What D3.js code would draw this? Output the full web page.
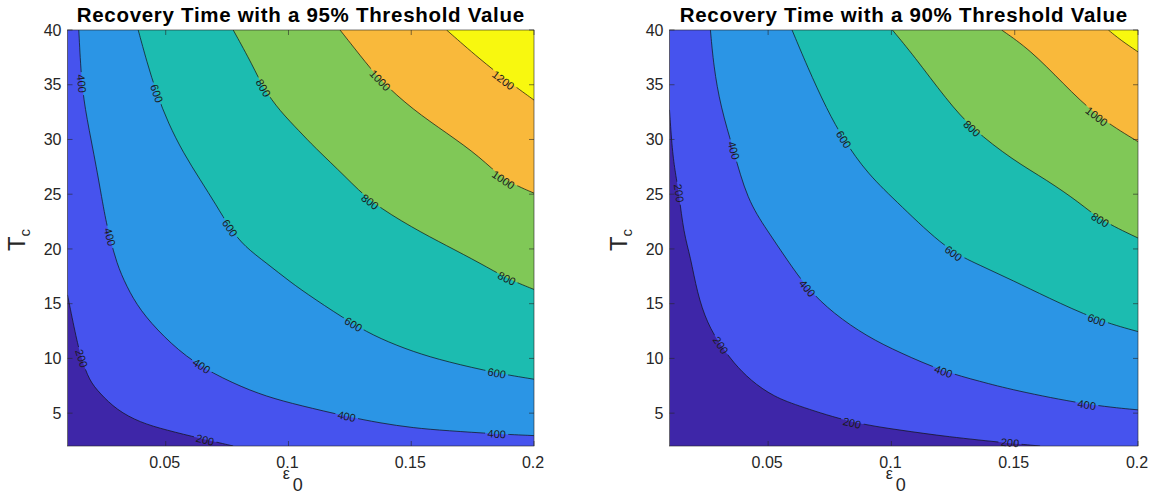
<!DOCTYPE html>
<html>
<head>
<meta charset="utf-8">
<script src="https://cdn.jsdelivr.net/npm/d3@7"></script>
<style>
  body { margin: 0; background: #fff; }
  text { font-family: "Liberation Sans", Arial, Helvetica, sans-serif; }
</style>
</head>
<body>
<script>
const levels = [200, 400, 600, 800, 1000, 1200];
const bandColors = ['#3e26a8', '#4653ee', '#2b95e5', '#1cbcb0', '#80c857', '#f9b93b', '#f8f80f'];
const xTicks = [0.05, 0.1, 0.15, 0.2];
const yTicks = [5, 10, 15, 20, 25, 30, 35, 40];
const titles = ['Recovery Time with a 95% Threshold Value', 'Recovery Time with a 90% Threshold Value'];

// contour lines, points are [epsilon0, Tc]
const t95_200 = [[0.01,15.8],[0.0137,11.7],[0.0157,10.0],[0.0188,8.0],[0.0232,6.8],[0.030,5.3],[0.0395,4.15],[0.0503,3.45],[0.064,2.7],[0.0775,2.0]];
const t95_400 = [[0.0146,40],[0.0157,35.1],[0.0177,32.1],[0.0218,27.5],[0.0252,23.0],[0.0272,21.1],[0.030,18.7],[0.034,16.6],[0.0395,14.4],[0.049,12.0],[0.0612,9.6],[0.0775,7.7],[0.0911,6.5],[0.1047,5.7],[0.1237,4.7],[0.1373,4.1],[0.1508,3.65],[0.1644,3.4],[0.1848,3.1],[0.2,2.95]];
const t95_600 = [[0.0388,40],[0.0423,37.1],[0.0463,34.2],[0.051,31.5],[0.0571,28.8],[0.0641,26.3],[0.0706,24.0],[0.0761,21.9],[0.0822,20.2],[0.0911,18.7],[0.1006,17.0],[0.1101,15.5],[0.1264,13.1],[0.1373,11.8],[0.1508,10.6],[0.1644,9.7],[0.1848,8.65],[0.2,8.1]];
const t95_800 = [[0.0775,40],[0.0856,36.7],[0.0897,34.7],[0.0965,32.6],[0.1047,30.7],[0.1101,29.4],[0.1237,26.5],[0.1332,24.3],[0.1508,21.9],[0.1644,20.3],[0.1781,18.7],[0.1889,17.3],[0.2,16.3]];
const t95_1000 = [[0.121,40],[0.1291,37.7],[0.1373,35.4],[0.1508,32.7],[0.1644,30.6],[0.1781,28.4],[0.1875,26.3],[0.2,25.1]];
const t95_1200 = [[0.1644,40],[0.1781,37.3],[0.1889,35.4],[0.2,33.6]];

const t90_200 = [[0.01,32.7],[0.0111,29.0],[0.0124,26.9],[0.0138,25.1],[0.0158,21.4],[0.0185,19.3],[0.0212,16.0],[0.0253,13.2],[0.0307,11.2],[0.036,9.6],[0.0428,8.0],[0.0522,6.5],[0.0631,5.6],[0.084,4.1],[0.1036,3.45],[0.1225,2.85],[0.1481,2.25],[0.1603,2.0]];
const t90_400 = [[0.0266,40],[0.0279,36.7],[0.0307,33.0],[0.036,29.0],[0.0415,24.5],[0.0496,21.7],[0.0577,19.0],[0.0658,16.4],[0.0765,14.1],[0.0901,12.0],[0.1036,10.5],[0.1211,8.8],[0.136,7.9],[0.1494,7.1],[0.1792,5.75],[0.2,5.3]];
const t90_600 = [[0.0597,40],[0.0658,36.7],[0.0739,32.7],[0.0806,30.0],[0.0901,26.9],[0.1036,24.0],[0.1225,19.9],[0.136,18.5],[0.1494,17.1],[0.163,15.6],[0.1832,13.5],[0.2,12.45]];
const t90_800 = [[0.1004,40],[0.1089,37.7],[0.1225,33.6],[0.1326,31.0],[0.1494,28.1],[0.163,26.3],[0.1765,24.2],[0.1846,22.65],[0.2,21.0]];
const t90_1000 = [[0.1447,40],[0.1562,38.2],[0.1697,35.1],[0.1832,32.1],[0.2,29.8]];
const t90_1200 = [[0.188,40],[0.1928,39.1],[0.2,38.0]];

// inline label spots [level, epsilon0, Tc]
const t95Labels = [[200,0.0157,10.0],[200,0.066,2.55],[400,0.0157,35.1],[400,0.0272,21.1],[400,0.0646,9.3],[400,0.1237,4.7],[400,0.1848,3.1],[600,0.0463,34.2],[600,0.0761,21.9],[600,0.1264,13.1],[600,0.1848,8.65],[800,0.0897,34.7],[800,0.1332,24.3],[800,0.1889,17.3],[1000,0.1373,35.4],[1000,0.1875,26.3],[1200,0.1875,35.4]];
const t90Labels = [[200,0.0138,25.1],[200,0.0307,11.2],[200,0.084,4.1],[200,0.1481,2.3],[400,0.036,29.0],[400,0.0658,16.4],[400,0.1211,8.8],[400,0.1792,5.75],[600,0.0806,30.0],[600,0.1251,19.6],[600,0.1832,13.5],[800,0.1326,31.0],[800,0.1846,22.65],[1000,0.1832,32.1]];

const width = 1155, height = 499;
const plotTop = 30, plotBottom = 446;

const panels = [
  {title: titles[0], lines: [t95_200, t95_400, t95_600, t95_800, t95_1000, t95_1200], labels: t95Labels, left: 67.5, right: 534},
  {title: titles[1], lines: [t90_200, t90_400, t90_600, t90_800, t90_1000, t90_1200], labels: t90Labels, left: 669.5, right: 1138}
];

let svg = d3.select('body').append('svg')
            .attr('width', width)
            .attr('height', height);
let defs = svg.append('defs');

panels.forEach((p, k) => {
  let x = d3.scaleLinear().domain([0.01, 0.2]).range([p.left, p.right]);
  let y = d3.scaleLinear().domain([2, 40]).range([plotBottom, plotTop]);
  let pw = p.right - p.left, ph = plotBottom - plotTop;
  let cx = (p.left + p.right) / 2;

  defs.append('clipPath').attr('id', 'clip' + k)
      .append('rect').attr('x', p.left).attr('y', plotTop).attr('width', pw).attr('height', ph);

  let g = svg.append('g');
  let plot = g.append('g').attr('clip-path', 'url(#clip' + k + ')');

  plot.append('rect')
      .attr('x', p.left).attr('y', plotTop).attr('width', pw).attr('height', ph)
      .attr('fill', bandColors[0]);

  // basis curve smooths out reading noise in the traced points
  let line = d3.line()
               .x(d => x(d[0]))
               .y(d => y(d[1]))
               .curve(d3.curveBasis);

  // filled bands: everything above/right of each contour line
  p.lines.forEach((pts, i) => {
    let first = pts[0], last = pts[pts.length - 1];
    let corners = [[0.2, last[1]], [0.2, 40], [first[0], 40]];
    let d = line(pts) + corners.map(c => 'L' + x(c[0]) + ',' + y(c[1])).join('') + 'Z';
    plot.append('path').attr('d', d).attr('fill', bandColors[i + 1]);
  });

  // label placement, angle follows the line
  let spots = p.labels.map(l => {
    let pts = p.lines[levels.indexOf(l[0])].map(d => [x(d[0]), y(d[1])]);
    let px = x(l[1]), py = y(l[2]);
    let best = 0, bd = Infinity;
    pts.forEach((q, j) => {
      let dd = (q[0] - px) ** 2 + (q[1] - py) ** 2;
      if (dd < bd) { bd = dd; best = j; }
    });
    let a = pts[Math.max(0, best - 1)], b = pts[Math.min(pts.length - 1, best + 1)];
    let ang = Math.atan2(b[1] - a[1], b[0] - a[0]) * 180 / Math.PI;
    if (ang > 90) ang -= 180;
    if (ang < -90) ang += 180;
    return {text: String(l[0]), x: px, y: py, ang: ang};
  });

  let mask = defs.append('mask').attr('id', 'mask' + k).attr('maskUnits', 'userSpaceOnUse')
                 .attr('x', 0).attr('y', 0).attr('width', width).attr('height', height);
  mask.append('rect').attr('width', width).attr('height', height).attr('fill', '#fff');
  spots.forEach(s => {
    let w = s.text.length * 6.4 + 4;
    mask.append('rect')
        .attr('x', -w / 2).attr('y', -5).attr('width', w).attr('height', 10)
        .attr('transform', 'translate(' + s.x + ',' + s.y + ') rotate(' + s.ang + ')')
        .attr('fill', '#000');
  });

  let lineG = plot.append('g').attr('mask', 'url(#mask' + k + ')');
  p.lines.forEach(pts => {
    lineG.append('path')
         .attr('d', line(pts))
         .attr('fill', 'none')
         .attr('stroke', '#111')
         .attr('stroke-width', 0.7);
  });

  g.selectAll('.clabel')
   .data(spots)
   .enter().append('text')
   .attr('class', 'clabel')
   .attr('transform', s => 'translate(' + s.x + ',' + s.y + ') rotate(' + s.ang + ')')
   .attr('text-anchor', 'middle')
   .attr('dy', '0.35em')
   .attr('font-size', 11)
   .attr('fill', '#1a1a1a')
   .text(s => s.text);

  // box and inward ticks on all four sides
  g.append('rect')
   .attr('x', p.left).attr('y', plotTop).attr('width', pw).attr('height', ph)
   .attr('fill', 'none').attr('stroke', '#262626').attr('stroke-width', 0.6);

  let tl = 5;
  xTicks.forEach(t => {
    g.append('line').attr('x1', x(t)).attr('x2', x(t)).attr('y1', plotBottom).attr('y2', plotBottom - tl)
     .attr('stroke', '#262626').attr('stroke-width', 0.6);
    g.append('line').attr('x1', x(t)).attr('x2', x(t)).attr('y1', plotTop).attr('y2', plotTop + tl)
     .attr('stroke', '#262626').attr('stroke-width', 0.6);
    g.append('text').attr('x', x(t) - 1).attr('y', 468)
     .attr('text-anchor', 'middle').attr('font-size', 16).attr('fill', '#262626')
     .text(d3.format('~g')(t));
  });
  yTicks.forEach(t => {
    g.append('line').attr('x1', p.left).attr('x2', p.left + tl).attr('y1', y(t)).attr('y2', y(t))
     .attr('stroke', '#262626').attr('stroke-width', 0.6);
    g.append('line').attr('x1', p.right).attr('x2', p.right - tl).attr('y1', y(t)).attr('y2', y(t))
     .attr('stroke', '#262626').attr('stroke-width', 0.6);
    g.append('text').attr('x', p.left - 6).attr('y', y(t)).attr('dy', '0.35em')
     .attr('text-anchor', 'end').attr('font-size', 16).attr('fill', '#262626')
     .text(t);
  });

  // title
  g.append('text')
   .attr('x', cx).attr('y', 22)
   .attr('text-anchor', 'middle')
   .attr('font-size', 20.5).attr('font-weight', 'bold')
   .attr('letter-spacing', 0.7).attr('fill', '#000')
   .text(p.title);

  // axis labels
  g.append('text')
   .attr('x', cx - 18).attr('y', 479)
   .attr('font-size', 16).attr('fill', '#262626')
   .text('\u03b5');
  g.append('text')
   .attr('x', cx - 8).attr('y', 491)
   .attr('font-size', 18).attr('fill', '#262626')
   .text('0');

  let yl = g.append('text')
            .attr('transform', 'translate(' + (p.left - 43) + ',' + 240 + ') rotate(-90)')
            .attr('text-anchor', 'middle').attr('fill', '#262626');
  yl.append('tspan').attr('font-size', 24).text('T');
  yl.append('tspan').attr('font-size', 15).attr('dy', 5).text('c');
});
</script>
</body>
</html>
